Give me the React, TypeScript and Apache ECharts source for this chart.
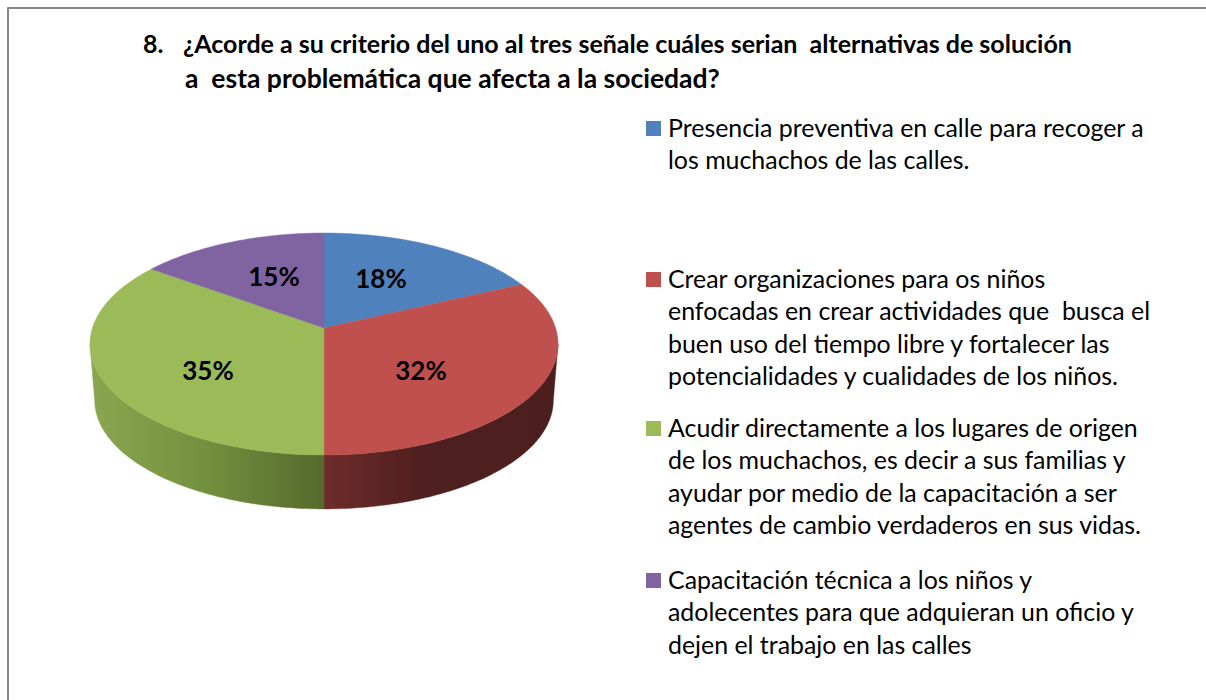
import React, { useEffect, useRef } from "react";
import * as echarts from "echarts";

const seriesValues = [18, 32, 35, 15];
const percentLabels = ["18%", "32%", "35%", "15%"];
const legendLabels = [
  "Presencia preventiva en calle para recoger a\nlos muchachos de las calles.",
  "Crear organizaciones para os niños\nenfocadas en crear actividades que  busca el\nbuen uso del tiempo libre y fortalecer las\npotencialidades y cualidades de los niños.",
  "Acudir directamente a los lugares de origen\nde los muchachos, es decir a sus familias y\nayudar por medio de la capacitación a ser\nagentes de cambio verdaderos en sus vidas.",
  "Capacitación técnica a los niños y\nadolecentes para que adquieran un oficio y\ndejen el trabajo en las calles",
];
const titleNumber = "8.";
const titleLineOne = "¿Acorde a su criterio del uno al tres señale cuáles serian  alternativas de solución";
const titleLineTwo = "a  esta problemática que afecta a la sociedad?";

const colors = ["#4F81BD", "#C0504D", "#9BBB59", "#8064A2"];
const labelAnchors = [[381, 278], [421, 370], [208, 370], [274, 276]];
const legendTops = [110.5, 261.5, 410.5, 562.5];
const FONT = "Lato, Carlito, Calibri, sans-serif";

const CX = 324, CY = 328, K = 0.144, A = 231.6, B = 108.7;
const DEPTH_Y = 384.5, DEPTH_SCALE = 0.98;
const SILHOUETTE = Math.acos(-K);
const total = seriesValues.reduce((a, b) => a + b, 0);

function project(t: number): [number, number] {
  const s = Math.sin(t), c = Math.cos(t), w = 1 + K * c;
  return [CX + (A * s) / w, CY - (B * c) / w];
}
function projectBottom(t: number): [number, number] {
  const [x, y] = project(t);
  return [CX + (x - CX) * DEPTH_SCALE, DEPTH_Y + (y - CY) * DEPTH_SCALE];
}
function arc(a: number, b: number, fn: (t: number) => [number, number]) {
  const n = Math.max(2, Math.ceil(((b - a) * 180) / Math.PI));
  const pts: [number, number][] = [];
  for (let i = 0; i <= n; i++) pts.push(fn(a + ((b - a) * i) / n));
  return pts;
}
function sliceAngles(i: number) {
  const before = seriesValues.slice(0, i).reduce((a, b) => a + b, 0);
  const start = (before / total) * 2 * Math.PI;
  return [start, start + (seriesValues[i] / total) * 2 * Math.PI];
}
const sideFills: Record<number, any> = {
  1: new echarts.graphic.LinearGradient(0, 0, 1, 0, [
    { offset: 0, color: "#6E2C2B" },
    { offset: 0.42, color: "#4E1F1E" },
    { offset: 1, color: "#4C1F1E" },
  ]),
  2: new echarts.graphic.LinearGradient(0, 0, 1, 0, [
    { offset: 0, color: "#8AA650" },
    { offset: 0.5, color: "#73903F" },
    { offset: 1, color: "#55692C" },
  ]),
};

export default function App() {
  const ref = useRef<HTMLDivElement>(null);
  useEffect(() => {
    document.body.style.margin = "0";
    document.body.style.background = "#fff";
    const chart = echarts.init(ref.current!, undefined, { renderer: "svg" });
    const titleStyle = { fontFamily: FONT, fontSize: 25, fontWeight: "bold" as const, color: "#000" };
    chart.setOption({
      animation: false,
      backgroundColor: "#fff",
      title: [
        { text: titleNumber, left: 143, top: 30, padding: 0, textStyle: titleStyle },
        { text: titleLineOne, left: 183, top: 30, padding: 0, textStyle: titleStyle },
        { text: titleLineTwo, left: 185, top: 64, padding: 0, textStyle: { ...titleStyle, fontSize: 26.5 } },
      ],
      series: [
        {
          type: "custom",
          name: "Lados",
          coordinateSystem: "none",
          silent: true,
          data: seriesValues,
          renderItem: (params: any) => {
            const [a, b] = sliceAngles(params.dataIndex);
            const lo = Math.max(a, SILHOUETTE), hi = Math.min(b, 2 * Math.PI - SILHOUETTE);
            if (hi <= lo) return { type: "group", children: [] };
            const pts = [...arc(lo, hi, project), ...arc(lo, hi, projectBottom).reverse()];
            const fill = sideFills[params.dataIndex] || colors[params.dataIndex];
            return { type: "polygon", shape: { points: pts }, style: { fill, stroke: fill, lineWidth: 0.4 } };
          },
        },
        {
          type: "custom",
          name: "Porcentajes",
          coordinateSystem: "none",
          silent: true,
          data: seriesValues,
          renderItem: (params: any) => {
            const i = params.dataIndex;
            const [a, b] = sliceAngles(i);
            const pts = [[CX, CY], ...arc(a, b, project)];
            return {
              type: "group",
              children: [
                { type: "polygon", shape: { points: pts }, style: { fill: colors[i], stroke: colors[i], lineWidth: 0.4 } },
                {
                  type: "text",
                  x: labelAnchors[i][0],
                  y: labelAnchors[i][1],
                  z2: 10,
                  style: {
                    text: percentLabels[i],
                    fontFamily: FONT,
                    fontSize: 26,
                    fontWeight: "bold",
                    fill: "#000",
                    align: "center",
                    verticalAlign: "middle",
                  },
                },
              ],
            };
          },
        },
      ],
      graphic: [
        { type: "line", shape: { x1: 7.5, y1: 8, x2: 1206, y2: 8 }, style: { stroke: "#868686", lineWidth: 2 } },
        { type: "line", shape: { x1: 8, y1: 7.5, x2: 8, y2: 700 }, style: { stroke: "#868686", lineWidth: 2 } },
        ...legendLabels.flatMap((label, i) => [
          { type: "rect", shape: { x: 646, y: Math.floor(legendTops[i]) + 11, width: 15, height: 15 }, style: { fill: colors[i] } },
          {
            type: "text",
            x: 668,
            y: legendTops[i],
            style: {
              text: label,
              fontFamily: FONT,
              fontSize: 24.9,
              lineHeight: 32.4,
              fill: "#000",
              align: "left",
              verticalAlign: "top",
            },
          },
        ]),
      ],
    });
    return () => chart.dispose();
  }, []);
  return <div ref={ref} style={{ width: 1206, height: 700 }} />;
}
